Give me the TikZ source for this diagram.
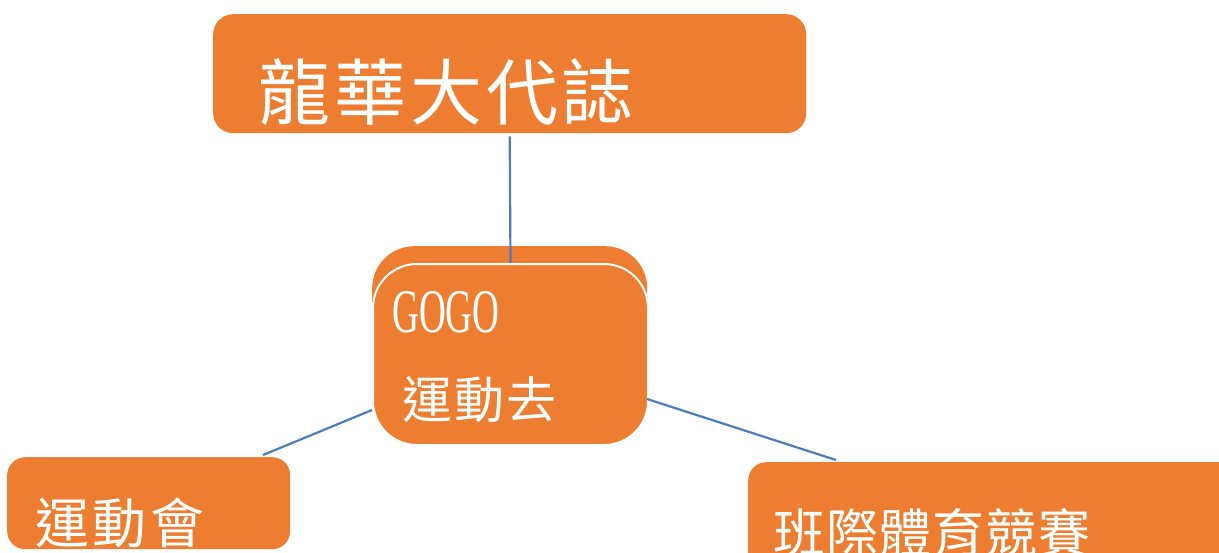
\documentclass[tikz,border=0pt]{standalone}
\usepackage{fontspec}
\newfontfamily\cjk{Noto Sans CJK TC}
\newfontfamily\narrowserif[FakeStretch=0.6]{Liberation Serif}
\definecolor{boxorange}{HTML}{ED7D31}
\definecolor{linkblue}{HTML}{4A7EBB}
\begin{document}
\begin{tikzpicture}[x=1pt,y=-1pt,
  box/.style={fill=boxorange,draw=none,rectangle,inner sep=0pt,anchor=north west},
  txt/.style={text=white,inner sep=0pt,anchor=west},
  link/.style={draw=linkblue,line width=2.2pt}]
\useasboundingbox (0,0) rectangle (1219,552);
% top box
\node[box,rounded corners=20pt,minimum width=593pt,minimum height=119pt] (top) at (213,14) {};
\node[txt,font=\cjk\fontsize{72}{80}\selectfont\addfontfeature{LetterSpace=5.5}] (toptxt) at (258,92) {龍華大代誌};
% center box (back and front)
\node[box,rounded corners=42pt,minimum width=275pt,minimum height=110pt] (back) at (372,246) {};
\node[box,rounded corners=44pt,minimum width=275pt,minimum height=181pt,draw=white,line width=2pt] (front) at (372,263) {};
\node[txt,font=\narrowserif\fontsize{62}{70}\selectfont] (gogo) at (392,312) {GOGO};
\node[txt,font=\cjk\fontsize{50}{56}\selectfont\addfontfeature{LetterSpace=4}] (go) at (402,400) {運動去};
% left box
\node[box,rounded corners=18pt,minimum width=283pt,minimum height=92pt] (left) at (7,457) {};
\node[txt,font=\cjk\fontsize{54}{60}\selectfont\addfontfeature{LetterSpace=7}] (lefttxt) at (35,523) {運動會};
% right box
\node[box,rounded corners=18pt,minimum width=500pt,minimum height=120pt] (right) at (748,462) {};
\node[txt,font=\cjk\fontsize{52}{58}\selectfont\addfontfeature{LetterSpace=2}] (righttxt) at (773,533) {班際體育競賽};
% connectors
\coordinate (lstart) at (372,410);
\coordinate (lend) at (263,455);
\coordinate (rstart) at (647,399);
\coordinate (rend) at (836,460);
\draw[link] ([yshift=-3pt]top.south) -- (front.north);
\draw[link] (lstart) -- (lend);
\draw[link] (rstart) -- (rend);
\end{tikzpicture}
\end{document}
